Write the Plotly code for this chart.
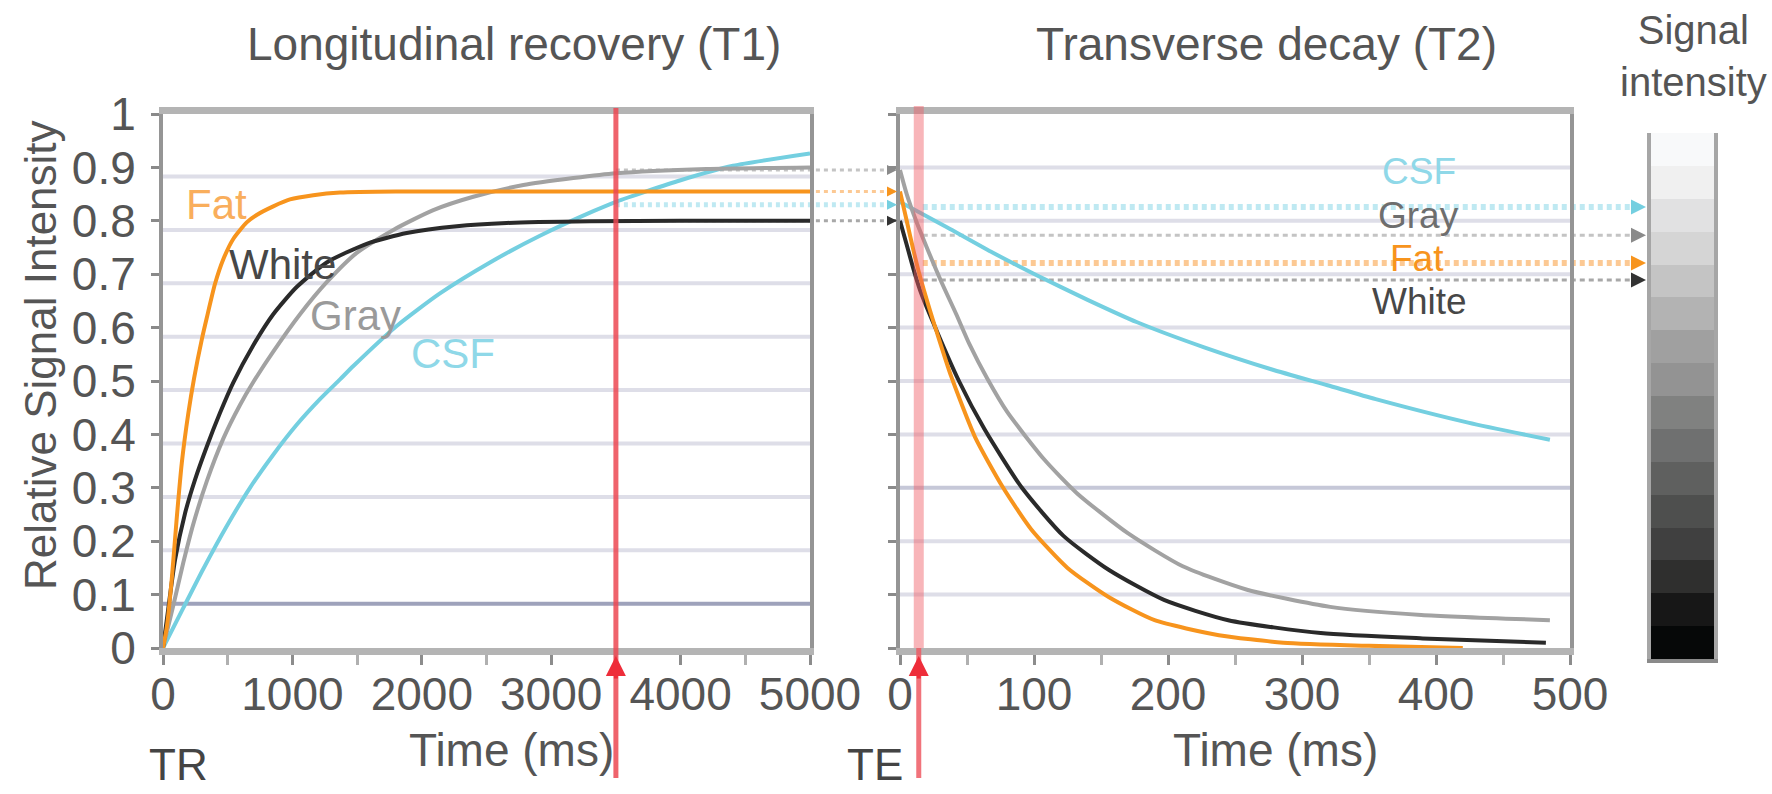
import plotly.graph_objects as go

W, H = 1772, 794

# ---------------- data ----------------
TISSUES = ["Fat", "White", "Gray", "CSF"]
LINE_COLORS = ["#f7941d", "#2a2a2a", "#a2a2a2", "#74cfe0"]
LABEL_COLORS = ["#f9ae5c", "#474747", "#9a9a9a", "#8fd8e8"]
RIGHT_LABEL_COLORS = ["#f7941d", "#474747", "#6e6e6e", "#8fd8e8"]
ARROW_COLORS = ["#f7941d", "#333333", "#8a8a8a", "#74cfe0"]
DOT_COLORS = ["#fcc994", "#a8a8a8", "#c4c4c4", "#bfe9f2"]

TR_MS = 3500
TE_MS = 14

# longitudinal recovery, time in ms
t1_fat_ms = [0, 30, 67, 105, 145, 196, 240, 300, 338, 402, 466, 543, 647, 724, 852, 981, 1161, 1368, 1800, 2500, 3500, 5000]
t1_fat = [0, 0.04, 0.127, 0.24, 0.346, 0.44, 0.505, 0.578, 0.618, 0.682, 0.728, 0.766, 0.797, 0.811, 0.827, 0.84, 0.848, 0.853, 0.855, 0.855, 0.855, 0.855]
t1_white_ms = [0, 28, 93, 170, 247, 338, 440, 543, 698, 852, 1033, 1265, 1574, 1883, 2270, 2656, 3300, 4000, 5000]
t1_white = [0, 0.05, 0.165, 0.252, 0.315, 0.377, 0.44, 0.497, 0.567, 0.625, 0.676, 0.722, 0.757, 0.777, 0.79, 0.796, 0.799, 0.8, 0.8]
t1_gray_ms = [0, 80, 157, 234, 338, 466, 595, 698, 852, 1059, 1265, 1497, 1780, 2089, 2398, 2785, 3171, 3500, 4200, 5000]
t1_gray = [0, 0.08, 0.16, 0.232, 0.312, 0.392, 0.455, 0.498, 0.555, 0.625, 0.685, 0.74, 0.783, 0.82, 0.845, 0.867, 0.88, 0.889, 0.897, 0.9]
t1_csf_ms = [0, 157, 311, 492, 672, 852, 1033, 1213, 1368, 1471, 1806, 2140, 2527, 2913, 3326, 3506, 4000, 4405, 5000]
t1_csf = [0, 0.075, 0.148, 0.228, 0.3, 0.362, 0.418, 0.466, 0.503, 0.528, 0.603, 0.664, 0.722, 0.772, 0.818, 0.836, 0.876, 0.903, 0.926]

# transverse decay, time in ms
t2_fat_ms = [0, 5, 10, 15, 22, 27, 38, 56, 77, 98, 125, 156, 190, 238, 286, 350, 420]
t2_fat = [0.855, 0.8, 0.745, 0.695, 0.635, 0.595, 0.51, 0.395, 0.3, 0.222, 0.15, 0.095, 0.052, 0.024, 0.01, 0.004, 0.0]
t2_white_ms = [0, 5, 10, 15, 23, 44, 63, 91, 122, 156, 197, 245, 314, 390, 482]
t2_white = [0.8, 0.755, 0.71, 0.67, 0.62, 0.5, 0.41, 0.3, 0.21, 0.146, 0.09, 0.052, 0.028, 0.018, 0.01]
t2_gray_ms = [0, 5, 12, 20, 31, 42, 52, 65, 80, 108, 132, 170, 211, 259, 321, 389, 485]
t2_gray = [0.895, 0.85, 0.8, 0.75, 0.685, 0.625, 0.568, 0.505, 0.442, 0.352, 0.29, 0.215, 0.153, 0.109, 0.077, 0.062, 0.052]
t2_csf_ms = [0, 15, 35, 68, 102, 140, 177, 227, 277, 319, 355, 424, 485]
t2_csf = [0.835, 0.815, 0.788, 0.742, 0.698, 0.652, 0.61, 0.563, 0.522, 0.492, 0.466, 0.422, 0.39]

# signal carried over at TR and read out at TE (Fat, White, Gray, CSF)
signal_at_tr = [0.855, 0.8, 0.895, 0.83]
signal_at_te = [0.721, 0.689, 0.773, 0.826]

t1_x_ticks = [0, 1000, 2000, 3000, 4000, 5000]
t2_x_ticks = [0, 100, 200, 300, 400, 500]
y_ticks = [0, 0.1, 0.2, 0.3, 0.4, 0.5, 0.6, 0.7, 0.8, 0.9, 1]
y_tick_text = ["0", "0.1", "0.2", "0.3", "0.4", "0.5", "0.6", "0.7", "0.8", "0.9", "1"]

# grey scale bar, darkest to lightest
scale_shades = ["#060808", "#171717", "#2f2f2e", "#404040", "#4e4f4e", "#5f605f",
                "#6f7070", "#808180", "#939393", "#a0a0a0", "#b3b3b3", "#c4c4c4",
                "#d5d5d5", "#e1e1e2", "#f0f0f0", "#f8f9fa"]

t1_series = [(t1_fat_ms, t1_fat), (t1_white_ms, t1_white), (t1_gray_ms, t1_gray), (t1_csf_ms, t1_csf)]
t2_series = [(t2_fat_ms, t2_fat), (t2_white_ms, t2_white), (t2_gray_ms, t2_gray), (t2_csf_ms, t2_csf)]

# ---------------- layout geometry (pixels) ----------------
LEFT_X0, LEFT_X1 = 163, 810
RIGHT_X0, RIGHT_X1 = 900, 1570
PLOT_TOP, PLOT_BOTTOM = 114, 648
BAR_X0, BAR_X1, BAR_TOP, BAR_BOTTOM = 1651, 1714, 133, 659
T1_RANGE = [0, 5000]
T2_RANGE = [0, 500]

FONT = "Liberation Sans, Arial, Helvetica, sans-serif"
TEXT = "#555555"
FS = 46


def px(x):
    return x / W


def py(y):
    return 1 - y / H


def left_paper_x(t):
    return px(LEFT_X0 + (t - T1_RANGE[0]) / (T1_RANGE[1] - T1_RANGE[0]) * (LEFT_X1 - LEFT_X0))


def right_paper_x(t):
    return px(RIGHT_X0 + (t - T2_RANGE[0]) / (T2_RANGE[1] - T2_RANGE[0]) * (RIGHT_X1 - RIGHT_X0))


fig = go.Figure()

# draw order: CSF, Gray, White, Fat (fat on top)
order = [3, 2, 1, 0]
for i in order:
    tx, ty = t1_series[i]
    fig.add_trace(go.Scatter(x=tx, y=ty, mode="lines", name=TISSUES[i],
                             line=dict(color=LINE_COLORS[i], width=4, shape="spline", smoothing=0.6),
                             xaxis="x", yaxis="y", showlegend=False, hoverinfo="skip"))
for i in order:
    tx, ty = t2_series[i]
    fig.add_trace(go.Scatter(x=tx, y=ty, mode="lines", name=TISSUES[i],
                             line=dict(color=LINE_COLORS[i], width=4, shape="spline", smoothing=0.6),
                             xaxis="x2", yaxis="y2", showlegend=False, hoverinfo="skip"))

# grey intensity scale
n = len(scale_shades)
cs = []
for k, c in enumerate(scale_shades):
    cs.append([k / n, c])
    cs.append([(k + 1) / n, c])
fig.add_trace(go.Heatmap(x=[0], y=list(range(n)), z=[[k] for k in range(n)],
                         colorscale=cs, zmin=-0.5, zmax=n - 0.5, showscale=False,
                         xaxis="x3", yaxis="y3", hoverinfo="skip"))

shapes = []
annotations = []

# horizontal grid lines
for k in range(1, 10):
    shapes.append(dict(type="line", xref="x", yref="y", x0=0, x1=5000,
                       y0=k / 10 - 0.017, y1=k / 10 - 0.017, layer="below",
                       line=dict(color="#9ea2bb" if k == 1 else "#dedee8", width=4)))
    shapes.append(dict(type="line", xref="x2", yref="y2", x0=0, x1=500,
                       y0=k / 10, y1=k / 10, layer="below",
                       line=dict(color="#c6c8d8" if k == 3 else "#dedee8", width=4)))

# TR marker
shapes.append(dict(type="line", xref="x", yref="paper", x0=TR_MS, x1=TR_MS,
                   y0=py(778), y1=py(108), line=dict(color="rgba(236,72,82,0.85)", width=5)))
annotations.append(dict(x=TR_MS, y=py(656), xref="x", yref="paper", text="", showarrow=True,
                        ax=0, ay=24, arrowhead=2, arrowsize=1, arrowwidth=4,
                        arrowcolor="#ee2d3a", standoff=0))
# TE marker
shapes.append(dict(type="line", xref="x2", yref="paper", x0=TE_MS, x1=TE_MS,
                   y0=py(PLOT_BOTTOM), y1=py(106), line=dict(color="rgba(240,90,100,0.45)", width=10)))
shapes.append(dict(type="line", xref="x2", yref="paper", x0=TE_MS, x1=TE_MS,
                   y0=py(778), y1=py(PLOT_BOTTOM), line=dict(color="rgba(238,90,100,0.85)", width=5)))
annotations.append(dict(x=TE_MS, y=py(656), xref="x2", yref="paper", text="", showarrow=True,
                        ax=0, ay=24, arrowhead=2, arrowsize=1, arrowwidth=4,
                        arrowcolor="#ee2d3a", standoff=0))

# carry-over from TR to the start of the decay curves
for i in range(4):
    shapes.append(dict(type="line", xref="paper", yref="y", x0=left_paper_x(TR_MS), x1=px(RIGHT_X0 - 8),
                       y0=signal_at_tr[i], y1=signal_at_tr[i], layer="below",
                       line=dict(color=DOT_COLORS[i], width=5 if i == 3 else 3, dash="4px,4px")))
    annotations.append(dict(x=px(RIGHT_X0 - 3), y=signal_at_tr[i], xref="paper", yref="y", text="",
                            showarrow=True, ax=-10, ay=0, arrowhead=2, arrowsize=1, arrowwidth=2,
                            arrowcolor=ARROW_COLORS[i], standoff=0))

# read-out at TE towards the intensity scale
for i in range(4):
    shapes.append(dict(type="line", xref="paper", yref="y", x0=right_paper_x(TE_MS) + px(4), x1=px(1632),
                       y0=signal_at_te[i], y1=signal_at_te[i], layer="below",
                       line=dict(color=DOT_COLORS[i], width=6 if i in (0, 3) else 3, dash="5px,4px")))
    annotations.append(dict(x=px(1646), y=signal_at_te[i], xref="paper", yref="y", text="",
                            showarrow=True, ax=-14, ay=0, arrowhead=2, arrowsize=1, arrowwidth=3,
                            arrowcolor=ARROW_COLORS[i], standoff=0))

# curve labels
left_label_pos = [(410, 0.831), (920, 0.719), (1491, 0.622), (2241, 0.552)]
right_label_pos = [(386, 0.729), (388, 0.648), (387, 0.81), (387, 0.893)]
for i in range(4):
    lx, ly = left_label_pos[i]
    annotations.append(dict(x=lx, y=ly, xref="x", yref="y", text=TISSUES[i], showarrow=False,
                            font=dict(family=FONT, size=42, color=LABEL_COLORS[i])))
    rx, ry = right_label_pos[i]
    annotations.append(dict(x=rx, y=ry, xref="x2", yref="y2", text=TISSUES[i], showarrow=False,
                            font=dict(family=FONT, size=37, color=RIGHT_LABEL_COLORS[i])))


def label(text, x, y, size=FS, color=TEXT, angle=0):
    annotations.append(dict(x=px(x), y=py(y), xref="paper", yref="paper", text=text, showarrow=False,
                            textangle=angle, xanchor="center", yanchor="middle",
                            font=dict(family=FONT, size=size, color=color)))


label("Longitudinal recovery (T1)", 514, 44)
label("Transverse decay (T2)", 1266, 44)
label("Signal<br>intensity", 1693, 56, size=40)
label("Relative Signal Intensity", 40, 355, size=44, angle=-90)
label("Time (ms)", 512, 750)
label("Time (ms)", 1275, 750)
label("TR", 178, 764, size=44, color="#444444")
label("TE", 875, 764, size=44, color="#444444")

tick_font = dict(family=FONT, size=FS, color=TEXT)
x_common = dict(showline=True, linecolor="#b4b4b4", linewidth=7, mirror=True,
                ticks="outside", ticklen=10, tickwidth=3, tickcolor="#8c8c8c", automargin=False,
                showgrid=False, zeroline=False, tickfont=tick_font, ticklabelstandoff=-10)
y_common = dict(range=[0, 1], domain=[py(PLOT_BOTTOM), py(PLOT_TOP)], showline=True,
                linecolor="#959595", linewidth=4, mirror=True, ticks="outside", ticklen=8,
                tickwidth=3, tickcolor="#8a8a8a", tickvals=y_ticks, ticktext=y_tick_text,
                automargin=False, showgrid=False, zeroline=False, tickfont=tick_font,
                ticklabelstandoff=6)

fig.update_layout(
    width=W, height=H, margin=dict(l=0, r=0, t=0, b=0, pad=0, autoexpand=False),
    paper_bgcolor="white", plot_bgcolor="rgba(0,0,0,0)",
    xaxis=dict(domain=[px(LEFT_X0), px(LEFT_X1)], range=T1_RANGE, anchor="y",
               tickvals=t1_x_ticks, ticktext=[str(v) for v in t1_x_ticks],
               minor=dict(dtick=500, tick0=0, ticks="outside", ticklen=10, tickwidth=3, tickcolor="#b0b0b0"),
               **x_common),
    yaxis=dict(anchor="x", **y_common),
    xaxis2=dict(domain=[px(RIGHT_X0), px(RIGHT_X1)], range=T2_RANGE, anchor="y2",
                tickvals=t2_x_ticks, ticktext=[str(v) for v in t2_x_ticks],
                minor=dict(dtick=50, tick0=0, ticks="outside", ticklen=10, tickwidth=3, tickcolor="#b0b0b0"),
                **x_common),
    yaxis2=dict(anchor="x2", showticklabels=False, **y_common),
    xaxis3=dict(domain=[px(BAR_X0), px(BAR_X1)], range=[-0.5, 0.5], anchor="y3", automargin=False,
                showline=True, linecolor="#8a8a8a", linewidth=4, showticklabels=False,
                ticks="", showgrid=False, zeroline=False),
    yaxis3=dict(domain=[py(BAR_BOTTOM), py(BAR_TOP)], range=[-0.5, n - 0.5], anchor="x3", automargin=False,
                showline=True, linecolor="#a6a6a6", linewidth=4, mirror=True, showticklabels=False,
                ticks="", showgrid=False, zeroline=False),
    shapes=shapes, annotations=annotations,
)

fig.write_html("out.html")
